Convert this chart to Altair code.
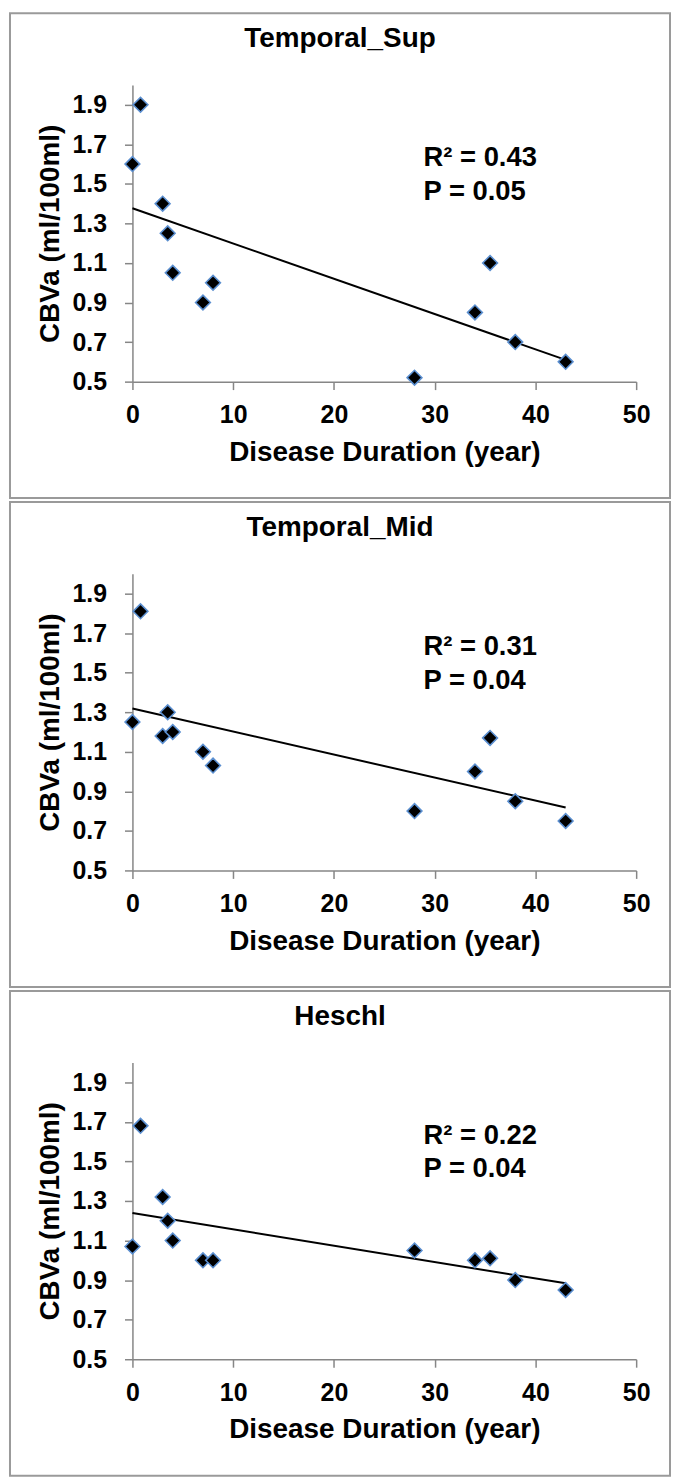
import altair as alt
import pandas as pd

# ---- data ----
duration = [0, 0.8, 3, 3.5, 4, 7, 8, 28, 34, 35.5, 38, 43]
regions = ["Temporal_Sup", "Temporal_Mid", "Heschl"]
cbva_sup = [1.60, 1.90, 1.40, 1.25, 1.05, 0.90, 1.00, 0.52, 0.85, 1.10, 0.70, 0.60]
cbva_mid = [1.25, 1.81, 1.18, 1.30, 1.20, 1.10, 1.03, 0.80, 1.00, 1.17, 0.85, 0.75]
cbva_heschl = [1.07, 1.68, 1.32, 1.20, 1.10, 1.00, 1.00, 1.05, 1.00, 1.01, 0.90, 0.85]
r2_labels = ["R\u00b2 = 0.43", "R\u00b2 = 0.31", "R\u00b2 = 0.22"]
p_labels = ["P = 0.05", "P = 0.04", "P = 0.04"]
x_ticks = [0, 10, 20, 30, 40, 50]
y_ticks = [0.5, 0.7, 0.9, 1.1, 1.3, 1.5, 1.7, 1.9]

series = [cbva_sup, cbva_mid, cbva_heschl]

# ---- layout / style constants ----
W, H = 506, 298
FONT = "Liberation Sans"
AXIS_GRAY = "#868686"
BORDER_GRAY = "#9a9a9a"
ANN_X, ANN_Y1, ANN_Y2 = 28.9, 1.63, 1.46
BOX_TOP, BOX_BOTTOM = -72, 415


def panel(name, values, r2, p):
    df = pd.DataFrame({"duration": duration, "cbva": values})
    ann = pd.DataFrame({"duration": [ANN_X, ANN_X], "cbva": [ANN_Y1, ANN_Y2],
                        "label": [r2, p]})
    one = pd.DataFrame({"k": [0]})

    x = alt.X("duration:Q",
              scale=alt.Scale(domain=[0, 50], nice=False, zero=False),
              axis=alt.Axis(values=x_ticks, title="Disease Duration (year)",
                            labelPadding=13, titleX=W / 2, titleY=71,
                            titleBaseline="middle", titleAlign="center"))
    y = alt.Y("cbva:Q",
              scale=alt.Scale(domain=[0.5, 2.0], nice=False, zero=False),
              axis=alt.Axis(values=y_ticks, format=".1f", title="CBVa (ml/100ml)",
                            labelPadding=18, titleX=-82, titleY=H / 2,
                            titleAngle=270, titleBaseline="middle",
                            titleAlign="center"))

    border = alt.Chart(one).mark_rect(
        fillOpacity=0, stroke=BORDER_GRAY, strokeWidth=2
    ).encode(x=alt.value(-123), x2=alt.value(540),
             y=alt.value(BOX_TOP), y2=alt.value(BOX_BOTTOM))

    title = alt.Chart(one).mark_text(
        text=name, font=FONT, fontSize=28, fontWeight="bold", color="black",
        align="center", baseline="middle"
    ).encode(x=alt.value(208.5), y=alt.value(-46))

    trend = alt.Chart(df).transform_regression(
        "duration", "cbva"
    ).mark_line(color="black", strokeWidth=2).encode(x=x, y=y)

    pts = alt.Chart(df).mark_point(
        shape="diamond", filled=True, fill="black", stroke="#5b8fd0",
        strokeWidth=1.6, size=220, opacity=1
    ).encode(x=x, y=y)

    txt = alt.Chart(ann).mark_text(
        font=FONT, fontSize=27.5, fontWeight="bold", color="black",
        align="left", baseline="middle"
    ).encode(x=x, y=y, text="label:N")

    return alt.layer(border, title, trend, pts, txt).properties(width=W, height=H)


panels = [panel(regions[i], series[i], r2_labels[i], p_labels[i]) for i in range(3)]

chart = alt.vconcat(*panels, spacing=0).properties(
    padding=0
).configure_view(
    stroke="transparent"
).configure_axis(
    grid=False,
    domainColor=AXIS_GRAY, domainWidth=1.5,
    tickColor=AXIS_GRAY, tickWidth=1.5, tickSize=8,
    labelFont=FONT, labelFontSize=25, labelFontWeight="bold", labelColor="black",
    labelFlush=False, labelOverlap=False,
    titleFont=FONT, titleFontSize=28, titleFontWeight="bold", titleColor="black",
)

chart.save("out.html", embed_options={"renderer": "svg", "actions": False})
